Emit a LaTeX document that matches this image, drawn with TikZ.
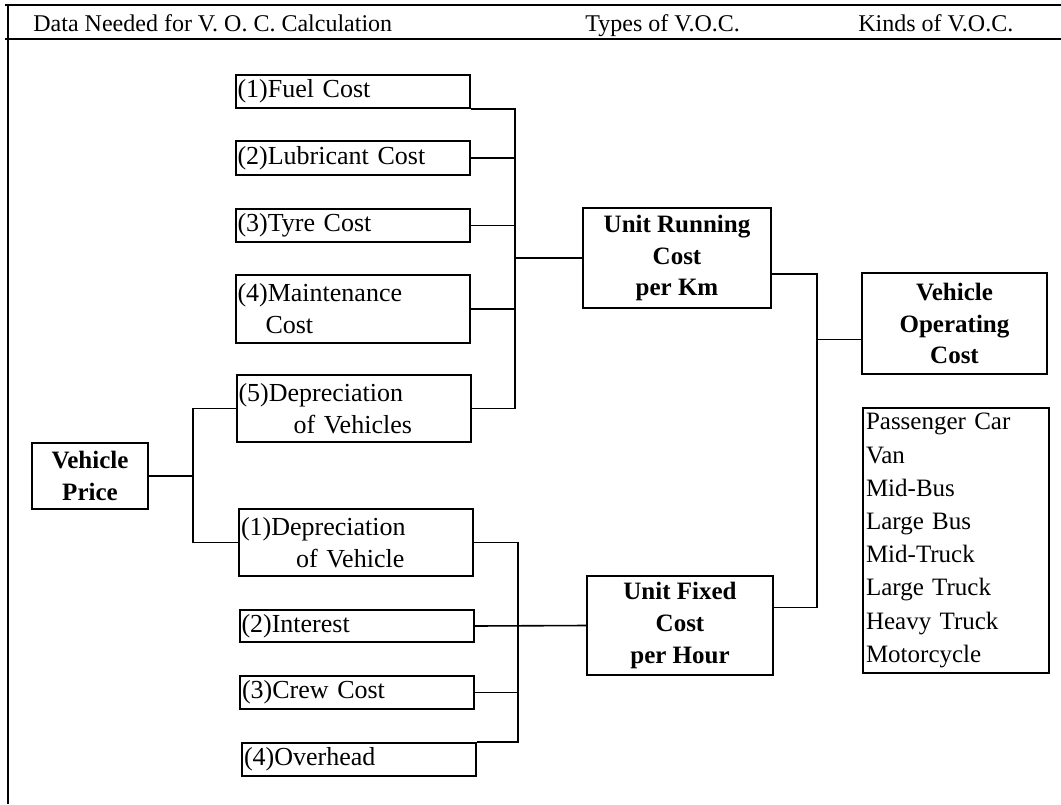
\documentclass[tikz,border=0pt]{standalone}
\usepackage{fontspec}
\setmainfont{Liberation Serif}
\usepackage{tikz}
\usetikzlibrary{calc}
\tikzset{
  frame/.style={line width=1pt, black},
  link/.style={line width=0.8pt, black},
  costbox/.style={draw, line width=1pt, inner xsep=1pt, inner ysep=0pt,
                  text width=115pt, align=left, font=\fontsize{13}{16}\selectfont},
  sumbox/.style={draw, line width=1pt, inner sep=1pt, align=center,
                 font=\bfseries\fontsize{12.5}{15.8}\selectfont},
  kindbox/.style={draw, line width=1pt, inner xsep=1.5pt, inner ysep=0pt,
                  text width=90pt, align=left, font=\fontsize{12.5}{16.6}\selectfont},
  headtxt/.style={anchor=base west, inner sep=0pt, font=\fontsize{12}{14}\selectfont},
}

\begin{document}
\begin{tikzpicture}[x=0.5pt,y=-0.5pt]
  \useasboundingbox (0,0) rectangle (1061,804);
  % ====== frame and header ======
  \draw[frame] (5,5) -- (1061,5);
  \draw[frame] (5,39) -- (1061,39);
  \draw[frame, line width=1.3pt] (8,5) -- (8,804);
  \node[headtxt] (hdata) at (33,31) {Data Needed for V. O. C. Calculation};
  \node[headtxt] (htype) at (585,31) {Types of V.O.C.};
  \node[headtxt] (hkind) at (858,31) {Kinds of V.O.C.};
  % ====== running cost items ======
  \node[costbox, minimum height=16.5pt] (fuel)  at (352.5,91.5) {(1)Fuel Cost};
  \node[costbox, minimum height=17pt]   (lub)   at (352.5,158)  {(2)Lubricant Cost};
  \node[costbox, minimum height=16.5pt] (tyre)  at (352.5,225.5){(3)Tyre Cost};
  \node[costbox, minimum height=34pt]   (maint) at (352.5,309)  {(4)Maintenance\\\hspace*{14pt}Cost};
  \node[costbox, minimum height=33.5pt] (depr5) at (353.5,408.5){(5)Depreciation\\\hspace*{27.5pt}of Vehicles};
  % ====== fixed cost items ======
  \node[costbox, minimum height=33.5pt] (depr1) at (356,542.5)  {(1)Depreciation\\\hspace*{27.5pt}of Vehicle};
  \node[costbox, minimum height=16pt]   (inter) at (356.5,626)  {(2)Interest};
  \node[costbox, minimum height=16.5pt] (crew)  at (357,692.5)  {(3)Crew Cost};
  \node[costbox, minimum height=16.5pt] (over)  at (359,759.5)  {(4)Overhead};
  % ====== price, types, kinds ======
  \node[sumbox, minimum width=58pt, minimum height=33pt]   (price) at (90,476)      {Vehicle\\Price};
  \node[sumbox, minimum width=94pt, minimum height=50pt]   (run)   at (677,258)     {Unit Running\\Cost\\per Km};
  \node[sumbox, minimum width=93pt, minimum height=49.5pt] (fixed) at (680,625.5)   {Unit Fixed\\Cost\\per Hour};
  \node[sumbox, minimum width=92.5pt, minimum height=50.5pt] (voc) at (954.5,323.5) {Vehicle\\Operating\\Cost};
  \node[kindbox, minimum height=132.5pt] (kinds) at (956,540.5)
    {Passenger Car\\Van\\Mid-Bus\\Large Bus\\Mid-Truck\\Large Truck\\Heavy Truck\\Motorcycle};
  % ====== connectors ======
  \coordinate (busP) at (193,0);
  \coordinate (busR) at (515,0);
  \coordinate (busF) at (518,0);
  \coordinate (busV) at (817,0);
  \coordinate (runR) at ([yshift=-8pt]run.east);
  \coordinate (fixR) at ([yshift=9pt]fixed.east);
  \coordinate (vocL) at ([yshift=-8pt]voc.west);
  \draw[link] (fuel.south east) -- (fuel.south east -| busR) -- (depr5.east -| busR) -- (depr5.east);
  \foreach \n in {lub,tyre,maint}
    \draw[link] (\n.east) -- (\n.east -| busR);
  \draw[link] (run.west) -- (run.west -| busR);
  \draw[link] (depr1.east) -- (depr1.east -| busF) -- (over.north east -| busF) -- (over.north east);
  \draw[link] (crew.east) -- (crew.east -| busF);
  \draw[link] (inter.east) -- (fixed.west);
  \draw[link] (price.east) -- (price.east -| busP);
  \draw[link] (depr5.west) -- (depr5.west -| busP) -- (depr1.west -| busP) -- (depr1.west);
  \draw[link] (runR) -- (runR -| busV) -- (fixR -| busV) -- (fixR);
  \draw[link] (vocL -| busV) -- (vocL);
\end{tikzpicture}
\end{document}
